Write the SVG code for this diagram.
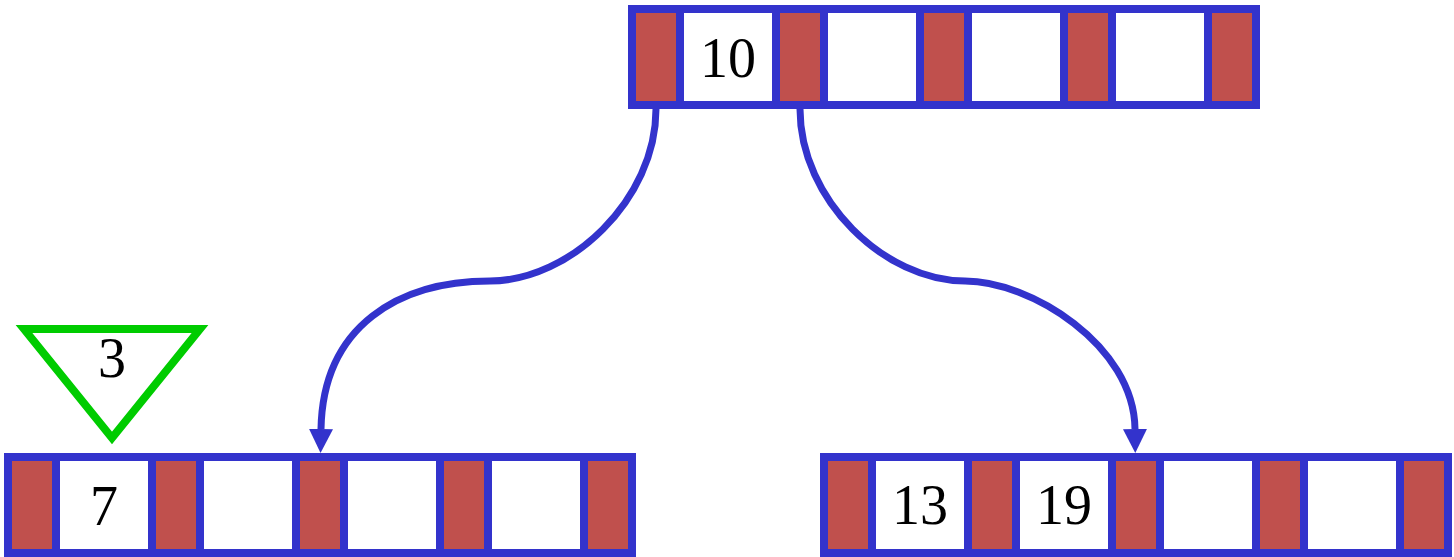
<svg xmlns="http://www.w3.org/2000/svg" width="1454" height="557" viewBox="0 0 1454 557">
<style>
.frame{fill:#3333CC}
.ptr{fill:#C0504D}
.key{fill:#FFFFFF}
.lbl{font-family:"Liberation Serif","Times New Roman",serif;font-size:56px;fill:#000;text-anchor:middle}
.edge{fill:none;stroke:#3333CC;stroke-width:7}
.tri{fill:#FFFFFF;stroke:#00CC00;stroke-width:8;stroke-linejoin:miter}
</style>
<defs>
<marker id="arrow" viewBox="0 0 24 24" markerWidth="24" markerHeight="24" markerUnits="userSpaceOnUse" refX="0" refY="12" orient="auto">
<path d="M0,0 L24,12 L0,24 z" fill="#3333CC"/>
</marker>
</defs>
<rect width="1454" height="557" fill="#FFFFFF"/>
<g id="edges">
<path class="edge" d="M656,109 C656,200 570,281 490,281 C400,281 323,325 321,429" marker-end="url(#arrow)"/>
<path class="edge" d="M800,109 C800,200 885,281 965,281 C1030,281 1134,345 1135,429" marker-end="url(#arrow)"/>
</g>
<g id="node-root">
<rect class="frame" x="628" y="5" width="632" height="104"/>
<rect class="ptr" x="636" y="13" width="40" height="88"/>
<rect class="key" x="684" y="13" width="88" height="88"/>
<rect class="ptr" x="780" y="13" width="40" height="88"/>
<rect class="key" x="828" y="13" width="88" height="88"/>
<rect class="ptr" x="924" y="13" width="40" height="88"/>
<rect class="key" x="972" y="13" width="88" height="88"/>
<rect class="ptr" x="1068" y="13" width="40" height="88"/>
<rect class="key" x="1116" y="13" width="88" height="88"/>
<rect class="ptr" x="1212" y="13" width="40" height="88"/>
<text class="lbl" x="728" y="77">10</text>
</g>
<g id="node-left">
<rect class="frame" x="4" y="453" width="632" height="104"/>
<rect class="ptr" x="12" y="461" width="40" height="88"/>
<rect class="key" x="60" y="461" width="88" height="88"/>
<rect class="ptr" x="156" y="461" width="40" height="88"/>
<rect class="key" x="204" y="461" width="88" height="88"/>
<rect class="ptr" x="300" y="461" width="40" height="88"/>
<rect class="key" x="348" y="461" width="88" height="88"/>
<rect class="ptr" x="444" y="461" width="40" height="88"/>
<rect class="key" x="492" y="461" width="88" height="88"/>
<rect class="ptr" x="588" y="461" width="40" height="88"/>
<text class="lbl" x="104" y="525">7</text>
</g>
<g id="node-right">
<rect class="frame" x="820" y="453" width="632" height="104"/>
<rect class="ptr" x="828" y="461" width="40" height="88"/>
<rect class="key" x="876" y="461" width="88" height="88"/>
<rect class="ptr" x="972" y="461" width="40" height="88"/>
<rect class="key" x="1020" y="461" width="88" height="88"/>
<rect class="ptr" x="1116" y="461" width="40" height="88"/>
<rect class="key" x="1164" y="461" width="88" height="88"/>
<rect class="ptr" x="1260" y="461" width="40" height="88"/>
<rect class="key" x="1308" y="461" width="88" height="88"/>
<rect class="ptr" x="1404" y="461" width="40" height="88"/>
<text class="lbl" x="920" y="524">13</text>
<text class="lbl" x="1064" y="524">19</text>
</g>
<g id="node-insert">
<polygon class="tri" points="24,329 200,329 112,438"/>
<text class="lbl" x="112" y="377">3</text>
</g>
</svg>
